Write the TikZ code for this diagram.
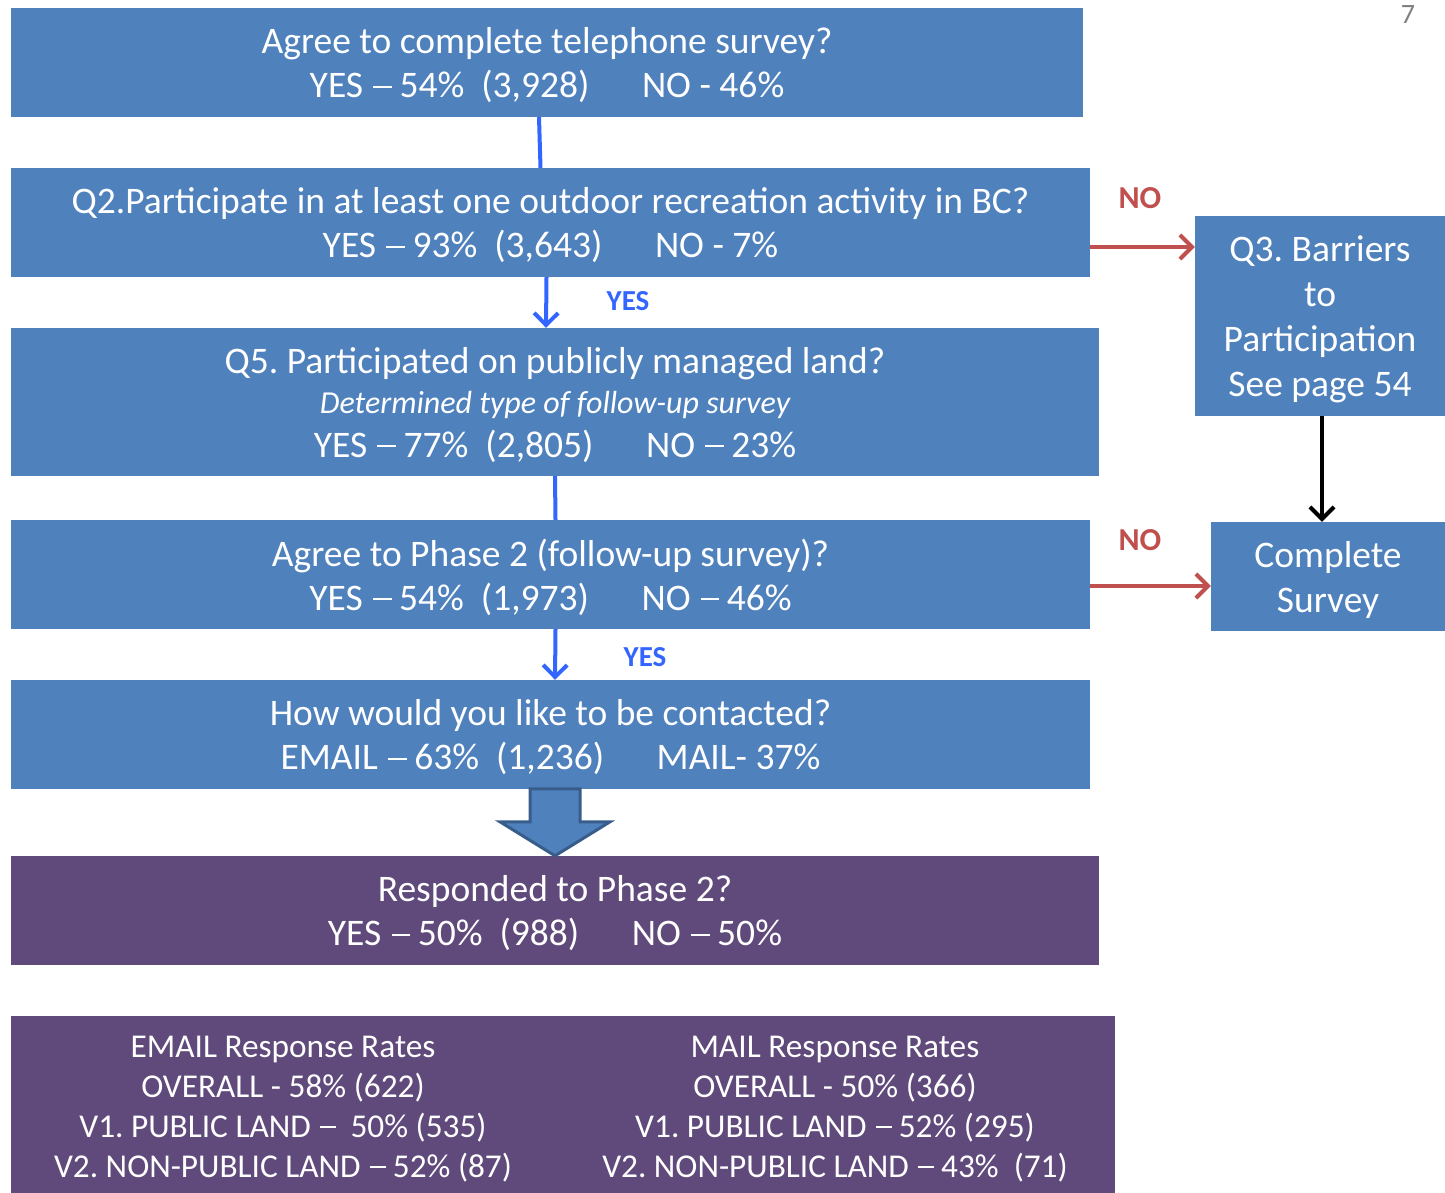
\documentclass[tikz,border=0pt]{standalone}
\usepackage{fontspec}
\setmainfont{Carlito}
\usepackage{xcolor}
\usetikzlibrary{positioning,arrows.meta}
\frenchspacing
\definecolor{boxblue}{RGB}{79,129,189}
\definecolor{boxpurple}{RGB}{96,74,123}
\definecolor{edgeblue}{RGB}{51,102,255}
\definecolor{edgered}{RGB}{192,80,77}
\definecolor{arrowrim}{RGB}{56,93,138}
\newcommand{\bigtext}{\fontsize{37.5}{44}\selectfont}
\newcommand{\dsh}{\hspace{0.27em}\rule[0.27em]{0.5em}{0.06em}\hspace{0.2em}}

\begin{document}
\begin{tikzpicture}[x=1pt, y=-1pt,
                    qbox/.style={fill=boxblue, inner sep=0pt},
                    pbox/.style={qbox, fill=boxpurple},
                    words/.style={text=white, inner sep=0pt, align=center, font=\bigtext, yshift=-3pt},
                    yesline/.style={draw=edgeblue, line width=4pt},
                    noline/.style={draw=edgered, line width=4pt},
                    tag/.style={font=\fontsize{29}{30}\selectfont\bfseries, inner sep=0pt},
                    >={Straight Barb[length=12pt,width=24pt]}]
  \useasboundingbox (0,0) rectangle (1445,1193);
  % left boxes
  \node[qbox, minimum width=1072pt, minimum height=109pt,
        label={[words]center:{Agree to complete telephone survey?\\YES\dsh 54\%\ \ (3,928)\hspace{1.4em}NO - 46\%}}] (tel) at (547,62.5) {};
  \node[qbox, minimum width=1079pt, minimum height=109pt,
        label={[words]center:{Q2.Participate in at least one outdoor recreation activity in BC?\\YES\dsh 93\%\ \ (3,643)\hspace{1.4em}NO - 7\%}}] (act) at (550.5,222.5) {};
  \node[qbox, minimum width=1088pt, minimum height=148pt,
        label={[words]center:{Q5. Participated on publicly managed land?\\[-4pt]{\fontsize{32}{40}\selectfont\itshape Determined type of follow-up survey}\\YES\dsh 77\%\ \ (2,805)\hspace{1.4em}NO\dsh 23\%}}] (land) at (555,402) {};
  \node[qbox, minimum width=1079pt, minimum height=109pt,
        label={[words]center:{Agree to Phase 2 (follow-up survey)?\\YES\dsh 54\%\ \ (1,973)\hspace{1.4em}NO\dsh 46\%}}] (phase) at (550.5,574.5) {};
  \node[qbox, minimum width=1079pt, minimum height=109pt,
        label={[words]center:{How would you like to be contacted?\\EMAIL\dsh 63\%\ \ (1,236)\hspace{1.4em}MAIL- 37\%}}] (contact) at (550.5,734.5) {};
  \node[pbox, minimum width=1088pt, minimum height=109pt,
        label={[words]center:{Responded to Phase 2?\\YES\dsh 50\%\ \ (988)\hspace{1.4em}NO\dsh 50\%}}] (resp) at (555,910.5) {};
  \node[pbox, minimum width=1104pt, minimum height=177pt] (rates) at (563,1104.5) {};
  \node[words, font=\fontsize{33.3}{40}\selectfont] (email) at (283,1106)
    {EMAIL Response Rates\\OVERALL - 58\% (622)\\V1. PUBLIC LAND\dsh\ 50\% (535)\\V2. NON-PUBLIC LAND\dsh 52\% (87)};
  \node[words, font=\fontsize{33.3}{40}\selectfont] (mail) at (835,1106)
    {MAIL Response Rates\\OVERALL - 50\% (366)\\V1. PUBLIC LAND\dsh 52\% (295)\\V2. NON-PUBLIC LAND\dsh 43\%\ \ (71)};
  % right boxes
  \node[qbox, minimum width=250pt, minimum height=200pt,
        label={[words, font=\fontsize{37.5}{45}\selectfont]center:{Q3. Barriers\\to\\Participation\\See page 54}}] (barrier) at (1320,316) {};
  \node[qbox, minimum width=234pt, minimum height=109pt,
        label={[words, font=\fontsize{37.5}{45}\selectfont]center:{Complete\\Survey}}] (done) at (1328,576.5) {};
  % labels
  \node[tag, text=edgeblue] (yes1) at (628,301) {YES};
  \node[tag, text=edgeblue] (yes2) at (645,657) {YES};
  \node[tag, text=edgered, font=\fontsize{32}{34}\selectfont\bfseries] (no1) at (1140,198) {NO};
  \node[tag, text=edgered, font=\fontsize{32}{34}\selectfont\bfseries] (no2) at (1140,540) {NO};
  \node[text=gray, inner sep=0pt, font=\fontsize{28}{30}\selectfont] (page) at (1408,15) {7};
  % edges
  \draw[yesline] ([xshift=-8pt]tel.south) -- ([xshift=-10pt]act.north);
  \draw[yesline,->] ([xshift=-4pt]act.south) -- ([xshift=-9pt]land.north);
  \draw[yesline] (land.south) -- ([xshift=5pt]phase.north);
  \draw[yesline,->] ([xshift=5pt]phase.south) -- (contact.north -| land.south);
  \draw[noline,->] ([yshift=-24.5pt]act.east) -- ([yshift=-24.5pt]act.east -| barrier.west);
  \draw[noline,->] ([yshift=-11.5pt]phase.east) -- ([yshift=-11.5pt]phase.east -| done.west);
  \draw[line width=4pt,->] ([xshift=2pt]barrier.south) -- ([xshift=2pt]barrier.south |- done.north);
  \draw[fill=boxblue, draw=arrowrim, line width=3pt, line join=miter]
    (resp.north) -- ++(-55,-34) -- ++(30,0) -- ++(0,-33) -- ++(50,0) -- ++(0,33) -- ++(30,0) -- cycle;
\end{tikzpicture}
\end{document}
